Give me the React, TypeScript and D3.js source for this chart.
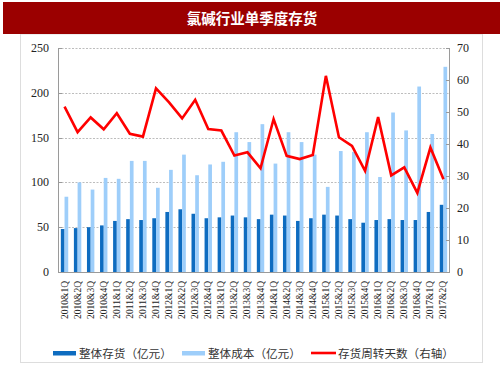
import React from "react";
import * as d3 from "d3";

const categories = [
  "2010&1Q","2010&2Q","2010&3Q","2010&4Q",
  "2011&1Q","2011&2Q","2011&3Q","2011&4Q",
  "2012&1Q","2012&2Q","2012&3Q","2012&4Q",
  "2013&1Q","2013&2Q","2013&3Q","2013&4Q",
  "2014&1Q","2014&2Q","2014&3Q","2014&4Q",
  "2015&1Q","2015&2Q","2015&3Q","2015&4Q",
  "2016&1Q","2016&2Q","2016&3Q","2016&4Q",
  "2017&1Q","2017&2Q",
];
const inventory = [48, 49, 50, 52, 57, 59, 58, 60, 67, 70, 65, 60, 61, 63, 61, 59, 64, 63, 57, 60, 64, 63, 59, 55, 58, 59, 58, 58, 67, 75];
const cost = [84, 100, 92, 105, 104, 124, 124, 94, 114, 131, 108, 120, 123, 156, 145, 165, 121, 156, 145, 131, 95, 135, 134, 156, 106, 178, 158, 207, 154, 229];
const turnoverDays = [51.7, 43.7, 48.3, 44.6, 49.6, 43.2, 42.3, 57.4, 53, 48, 53.8, 44.7, 44.2, 36.4, 37.4, 32.4, 47.8, 36.3, 35.3, 36.6, 61.3, 42.1, 39.4, 31.6, 48.4, 30.2, 32.7, 24.7, 38.9, 29];
const leftTicks = [0, 50, 100, 150, 200, 250];
const rightTicks = [0, 10, 20, 30, 40, 50, 60, 70];
const legendLabels = ["整体存货（亿元）", "整体成本（亿元）", "存货周转天数（右轴）"];
const title = "氯碱行业单季度存货";

const W = 503, H = 378;
const plot = { left: 58, right: 450, top: 48, bottom: 272 };
const DARK = "#0E6CC0";
const LIGHT = "#9ECEFA";
const RED = "#FF0000";
const SERIF = "'Liberation Serif', 'Times New Roman', serif";
const CJK = "'Noto Sans CJK SC', sans-serif";

export default function App() {
  const x = d3.scaleBand<string>().domain(categories).range([plot.left, plot.right]).padding(0);
  const yL = d3.scaleLinear().domain([0, 250]).range([plot.bottom, plot.top]);
  const yR = d3.scaleLinear().domain([0, 70]).range([plot.bottom, plot.top]);
  const bw = 3.7;
  const cx = (c: string) => (x(c) as number) + x.bandwidth() / 2;
  const line = d3.line<number>().x((_, i) => cx(categories[i])).y((d) => yR(d));

  return (
    <svg width={W} height={H} style={{ position: "absolute", left: 0, top: 0, background: "#fff" }}>
      {/* frame */}
      <rect x={20.5} y={34} width={462} height={328.5} fill="#fff" stroke="#DDDDDD" strokeWidth={1} />
      {/* title bar */}
      <rect x={3} y={2} width={497} height={32} fill="#9B0000" />
      <text x={252} y={23.5} textAnchor="middle" fill="#fff" fontFamily={CJK} fontWeight="bold" fontSize={14.5}>{title}</text>

      {/* gridlines */}
      {leftTicks.filter((t) => t > 0).map((t) => (
        <line key={t} x1={plot.left} x2={plot.right} y1={Math.round(yL(t)) + 0.5} y2={Math.round(yL(t)) + 0.5} stroke="#BDBDBD" strokeDasharray="2,1.5" strokeWidth={1} />
      ))}

      {/* bars */}
      {categories.map((c, i) => (
        <g key={c}>
          <rect x={cx(c) - bw} y={yL(inventory[i])} width={bw} height={plot.bottom - yL(inventory[i])} fill={DARK} />
          <rect x={cx(c)} y={yL(cost[i])} width={bw} height={plot.bottom - yL(cost[i])} fill={LIGHT} />
        </g>
      ))}

      {/* line */}
      <path d={line(turnoverDays) || ""} fill="none" stroke={RED} strokeWidth={2.6} strokeLinejoin="miter" />

      {/* axes */}
      <line x1={plot.left + 0.5} x2={plot.left + 0.5} y1={plot.top} y2={plot.bottom} stroke="#9A9A9A" />
      <line x1={plot.right - 0.5} x2={plot.right - 0.5} y1={plot.top} y2={plot.bottom} stroke="#9A9A9A" />
      <line x1={plot.left} x2={plot.right} y1={plot.bottom + 0.5} y2={plot.bottom + 0.5} stroke="#9A9A9A" />
      {leftTicks.map((t) => (
        <g key={"l" + t}>
          <line x1={plot.left} x2={plot.left + 4} y1={Math.round(yL(t)) + 0.5} y2={Math.round(yL(t)) + 0.5} stroke="#9A9A9A" />
          <text x={49} y={yL(t) + 4} textAnchor="end" fontFamily={SERIF} fontSize={12} fill="#222">{t}</text>
        </g>
      ))}
      {rightTicks.map((t) => (
        <g key={"r" + t}>
          <line x1={plot.right - 4} x2={plot.right} y1={Math.round(yR(t)) + 0.5} y2={Math.round(yR(t)) + 0.5} stroke="#9A9A9A" />
          <text x={457} y={yR(t) + 4} textAnchor="start" fontFamily={SERIF} fontSize={12} fill="#222">{t}</text>
        </g>
      ))}
      {categories.map((c) => (
        <text key={"x" + c} transform={`translate(${cx(c) + 3},${plot.bottom + 9}) rotate(-90)`} textAnchor="end" fontFamily={SERIF} fontSize={9.5} fill="#222">{c}</text>
      ))}

      {/* legend */}
      <rect x={53} y={351} width={23} height={4.5} fill={DARK} />
      <text x={79} y={357.5} fontFamily={CJK} fontSize={11.6} fill="#333">{legendLabels[0]}</text>
      <rect x={182} y={351} width={23} height={4.5} fill={LIGHT} />
      <text x={208} y={357.5} fontFamily={CJK} fontSize={11.6} fill="#333">{legendLabels[1]}</text>
      <line x1={311} x2={336} y1={353} y2={353} stroke={RED} strokeWidth={2.6} />
      <text x={338} y={357.5} fontFamily={CJK} fontSize={11.6} fill="#333">{legendLabels[2]}</text>
    </svg>
  );
}
